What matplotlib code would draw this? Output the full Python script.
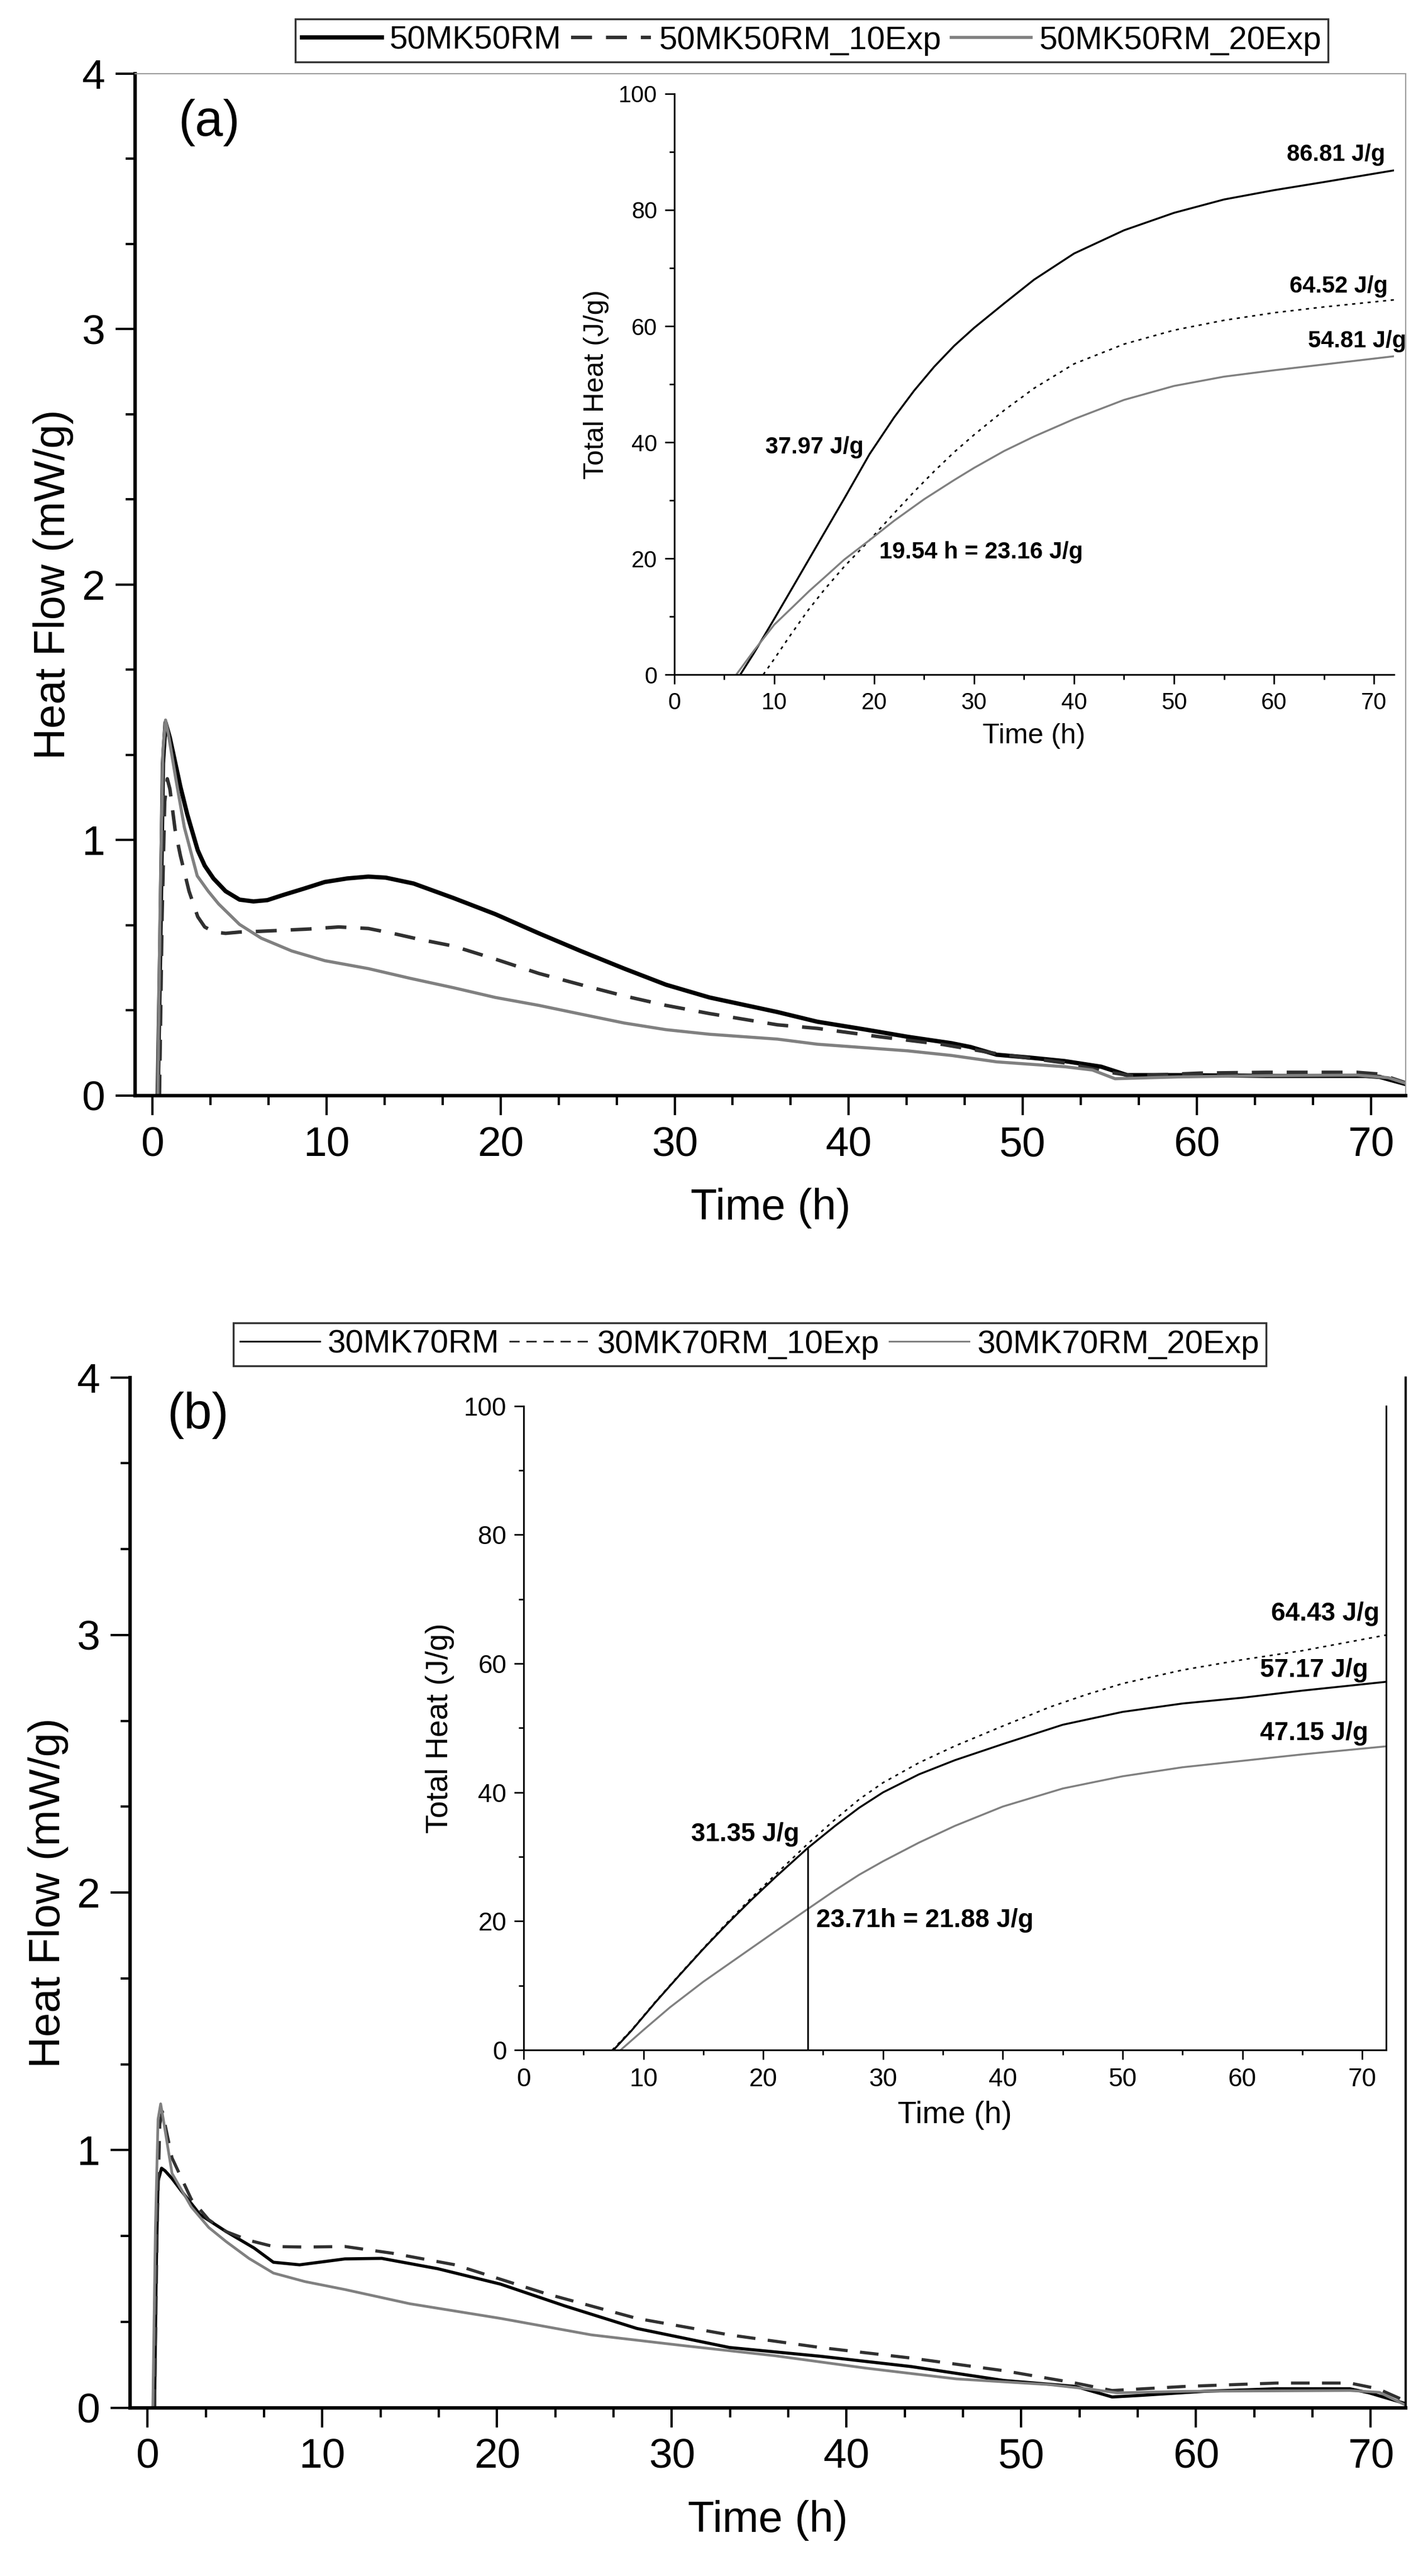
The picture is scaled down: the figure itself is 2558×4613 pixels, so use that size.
import matplotlib
matplotlib.use('Agg')
import matplotlib.pyplot as plt
from matplotlib.ticker import MultipleLocator

plt.rcParams['font.family'] = ['Liberation Sans', 'DejaVu Sans']

# ---- panel (a): heat flow, mW/g ----
a_ctrl_t = [0.3, 0.45, 0.6, 0.75, 1.0, 1.6, 2.0, 2.6, 3.0, 3.5, 4.2, 5.0, 5.8, 6.6, 7.5, 8.7,
            9.9, 11.2, 12.4, 13.4, 15.0, 17.3, 19.7, 22.2, 24.6, 27.1, 29.5, 32.0, 35.9, 38.2,
            41.0, 43.4, 45.9, 47.0, 48.5, 50.5, 52.4, 54.5, 56.0, 58.9, 64.0, 69.7, 70.5, 72.0]
a_ctrl_q = [0.0, 0.6, 1.3, 1.46, 1.40, 1.21, 1.10, 0.96, 0.90, 0.85, 0.80, 0.767, 0.76, 0.765,
            0.785, 0.81, 0.836, 0.85, 0.857, 0.853, 0.83, 0.773, 0.71, 0.635, 0.566, 0.497, 0.434,
            0.384, 0.327, 0.289, 0.258, 0.230, 0.205, 0.19, 0.16, 0.148, 0.135, 0.113, 0.080,
            0.080, 0.077, 0.077, 0.073, 0.045]

a_10_t = [0.4, 0.55, 0.7, 0.85, 1.0, 1.3, 1.6, 2.1, 2.6, 3.0, 3.55, 4.2, 5.0, 6.2, 7.5, 9.0,
          10.7, 12.4, 13.8, 15.3, 17.3, 19.7, 22.2, 24.6, 27.1, 29.5, 32.0, 35.9, 38.2, 41.8,
          45.4, 48.5, 52.4, 55.0, 56.3, 60.2, 64.0, 69.2, 70.5, 72.0]
a_10_q = [0.0, 0.7, 1.15, 1.24, 1.20, 1.04, 0.94, 0.80, 0.70, 0.66, 0.64, 0.635, 0.64, 0.643,
          0.647, 0.652, 0.66, 0.654, 0.635, 0.612, 0.585, 0.534, 0.478, 0.434, 0.39, 0.353,
          0.321, 0.277, 0.263, 0.23, 0.20, 0.164, 0.128, 0.091, 0.077, 0.088, 0.091, 0.091,
          0.084, 0.05]

a_20_t = [0.3, 0.45, 0.6, 0.75, 0.9, 1.34, 1.83, 2.57, 3.2, 3.8, 4.4, 5.0, 6.25, 8.0, 9.9, 12.4,
          14.8, 17.3, 19.7, 22.2, 24.6, 27.1, 29.5, 32.0, 35.9, 38.2, 43.4, 45.9, 48.5, 52.4,
          54.0, 55.3, 58.9, 64.0, 69.2, 71.0, 72.0]
a_20_q = [0.0, 0.8, 1.35, 1.47, 1.42, 1.24, 1.05, 0.86, 0.80, 0.75, 0.71, 0.67, 0.616, 0.566,
          0.528, 0.497, 0.459, 0.422, 0.384, 0.353, 0.319, 0.284, 0.258, 0.24, 0.221, 0.201,
          0.175, 0.157, 0.132, 0.113, 0.10, 0.066, 0.073, 0.078, 0.08, 0.07, 0.048]

# panel (a) inset: total heat, J/g
ia_ctrl_t = [6.6, 8, 10, 12, 14.7, 17, 19.54, 22, 24, 26, 28, 30, 33, 36, 40, 45, 50, 55, 60, 65, 72]
ia_ctrl_h = [0, 3.8, 9.6, 15.5, 23.5, 30.3, 37.97, 44.3, 48.9, 53.0, 56.6, 59.7, 63.9, 68.0,
             72.5, 76.5, 79.5, 81.8, 83.4, 84.8, 86.81]
ia_10_t = [8.9, 10, 11.5, 13.35, 15, 17, 19.54, 22, 24, 26, 28, 30, 33, 36, 40, 45, 50, 55, 60, 65, 72]
ia_10_h = [0, 2.7, 6.5, 11, 14.6, 18.6, 23.16, 27.8, 31.5, 35, 38.3, 41.3, 45.5, 49.3, 53.5,
           56.9, 59.3, 61.0, 62.3, 63.3, 64.52]
ia_20_t = [6.2, 8, 10, 12, 13.5, 15, 17, 19.54, 22, 25, 28, 30, 33, 36, 40, 45, 50, 55, 60, 65, 72]
ia_20_h = [0, 4.2, 8.6, 11.9, 14.4, 16.7, 19.8, 23.16, 26.5, 30.2, 33.5, 35.6, 38.5, 41, 44,
           47.3, 49.7, 51.3, 52.4, 53.4, 54.81]

# ---- panel (b) ----
b_ctrl_t = [0.4, 0.5, 0.6, 0.8, 1.0, 1.4, 1.9, 3.0, 4.5, 6.1, 7.2, 8.7, 11.3, 13.4, 16.6, 20.2,
            23.9, 28.0, 33.3, 38.5, 43.7, 49.0, 53.1, 55.2, 56.8, 60.5, 64.6, 68.8, 69.9, 72.0]
b_ctrl_q = [0.0, 0.55, 0.88, 0.93, 0.92, 0.89, 0.845, 0.75, 0.684, 0.62, 0.565, 0.555, 0.578,
            0.58, 0.54, 0.48, 0.395, 0.308, 0.234, 0.20, 0.16, 0.106, 0.083, 0.042, 0.048, 0.064,
            0.074, 0.074, 0.058, 0.016]

b_10_t = [0.4, 0.55, 0.7, 0.85, 1.0, 1.4, 2.5, 3.5, 4.5, 5.8, 7.2, 9.0, 11.3, 14.0, 17.6, 22.8,
          28.0, 33.3, 38.5, 43.7, 49.0, 53.1, 55.2, 59.4, 64.6, 68.8, 70.4, 72.0]
b_10_q = [0.0, 0.7, 1.1, 1.15, 1.10, 0.97, 0.81, 0.73, 0.684, 0.65, 0.626, 0.624, 0.626, 0.60,
          0.555, 0.443, 0.347, 0.283, 0.234, 0.193, 0.144, 0.096, 0.067, 0.083, 0.096, 0.096,
          0.074, 0.026]

b_20_t = [0.3, 0.45, 0.6, 0.75, 0.9, 1.4, 2.5, 3.5, 4.5, 5.8, 7.2, 9.0, 11.3, 15.0, 20.2, 25.4,
          30.7, 35.9, 41.1, 46.3, 51.6, 54.2, 55.5, 59.4, 68.8, 70.5, 72.0]
b_20_q = [0.0, 0.7, 1.12, 1.18, 1.12, 0.91, 0.78, 0.70, 0.645, 0.58, 0.523, 0.49, 0.459, 0.404,
          0.347, 0.283, 0.241, 0.202, 0.154, 0.112, 0.09, 0.07, 0.058, 0.064, 0.067, 0.06, 0.01]

ib_ctrl_t = [7.5, 9, 11, 13, 15, 17, 19, 21, 23.71, 26, 28, 30, 33, 36, 40, 45, 50, 55, 60, 65, 72]
ib_ctrl_h = [0, 3.0, 7.4, 11.6, 15.7, 19.6, 23.3, 26.8, 31.35, 34.8, 37.6, 40, 42.8, 45, 47.5,
             50.5, 52.5, 53.8, 54.7, 55.8, 57.17]
ib_10_t = [7.4, 9, 11, 13, 15, 17, 19, 21, 23.71, 26, 28, 30, 33, 36, 40, 44, 47, 50, 55, 60, 65, 72]
ib_10_h = [0, 3.1, 7.5, 11.7, 15.8, 19.8, 23.6, 27.2, 32, 35.8, 38.9, 41.5, 44.6, 47.2, 50.3,
           53.3, 55.2, 56.9, 59.0, 60.6, 62, 64.43]
ib_20_t = [8.1, 10, 12.2, 15, 18, 21, 23.71, 26, 28, 30, 33, 36, 40, 45, 50, 55, 60, 65, 72]
ib_20_h = [0, 3.1, 6.6, 10.6, 14.5, 18.4, 21.88, 24.8, 27.2, 29.3, 32.2, 34.8, 37.8, 40.6,
           42.5, 43.9, 44.9, 45.9, 47.15]

marker_t_b = 23.71
marker_h_b = 31.35

GRAY = '#808080'
DARK = '#303030'


def style_main(ax):
    ax.set_xlim(-1, 72)
    ax.set_ylim(0, 4)
    ax.xaxis.set_major_locator(MultipleLocator(10))
    ax.xaxis.set_minor_locator(MultipleLocator(10 / 3))
    ax.yaxis.set_major_locator(MultipleLocator(1))
    ax.yaxis.set_minor_locator(MultipleLocator(1 / 3))
    ax.tick_params(which='major', direction='out', length=25, width=3, labelsize=54, pad=14)
    ax.tick_params(which='minor', direction='out', length=12, width=3)
    ax.spines['left'].set_linewidth(4.5)
    ax.spines['bottom'].set_linewidth(4.5)
    ax.set_xlabel('Time (h)', fontsize=56, labelpad=30)
    ax.set_ylabel('Heat Flow (mW/g)', fontsize=56, labelpad=10)


def style_inset(ax, lab, tick):
    ax.set_xlim(0, 72)
    ax.set_ylim(0, 100)
    ax.xaxis.set_major_locator(MultipleLocator(10))
    ax.xaxis.set_minor_locator(MultipleLocator(5))
    ax.yaxis.set_major_locator(MultipleLocator(20))
    ax.yaxis.set_minor_locator(MultipleLocator(10))
    ax.tick_params(which='major', direction='out', length=12, width=2, labelsize=tick, pad=10)
    ax.tick_params(which='minor', direction='out', length=6.5, width=2)
    ax.spines['top'].set_visible(False)
    ax.spines['left'].set_linewidth(2.2)
    ax.spines['bottom'].set_linewidth(2.2)
    ax.patch.set_alpha(0)
    ax.set_xlabel('Time (h)', fontsize=lab, labelpad=12)
    ax.set_ylabel('Total Heat (J/g)', fontsize=lab, labelpad=12)


fig = plt.figure(figsize=(25.58, 46.13), dpi=100)

# ================= panel (a) =================
ax = fig.add_axes([0.0946, 0.5747, 0.8898, 0.3967])
style_main(ax)
for s in ('top', 'right'):
    ax.spines[s].set_color('#9a9a9a')
    ax.spines[s].set_linewidth(1.5)
ax.plot(a_ctrl_t, a_ctrl_q, color='black', lw=5.5, label='50MK50RM', solid_joinstyle='round')
ax.plot(a_10_t, a_10_q, color=DARK, lw=4.5, dashes=(6, 4), label='50MK50RM_10Exp')
ax.plot(a_20_t, a_20_q, color=GRAY, lw=4.0, label='50MK50RM_20Exp')
ax.text(0.034, 0.952, '(a)', transform=ax.transAxes, fontsize=65, ha='left', va='center')
leg = ax.legend(loc='upper left', bbox_to_anchor=(529 / 2558, 1 - 34 / 4613),
                bbox_transform=fig.transFigure, ncol=3, fontsize=42, frameon=True,
                fancybox=False, edgecolor='black', borderaxespad=0, borderpad=0.2,
                handlelength=2.45, handletextpad=0.25, columnspacing=0.3)
leg.get_frame().set_linewidth(2.5)

ins = fig.add_axes([0.4722, 0.7381, 0.5039, 0.2255])
style_inset(ins, 36, 30)
ins.spines['right'].set_visible(False)
ins.plot(ia_ctrl_t, ia_ctrl_h, color='black', lw=2.5)
ins.plot(ia_10_t, ia_10_h, color='black', lw=2.0, dashes=(2, 3))
ins.plot(ia_20_t, ia_20_h, color=GRAY, lw=2.5)
bold = dict(fontsize=30, fontweight='bold', ha='center', va='center')
ins.text(66.2, 89.5, '86.81 J/g', **bold)
ins.text(66.5, 66.8, '64.52 J/g', **bold)
ins.text(68.3, 57.4, '54.81 J/g', **bold)
ins.text(14.0, 39.1, '37.97 J/g', **bold)
ins.text(30.7, 21.1, '19.54 h = 23.16 J/g', **bold)

# ================= panel (b) =================
bx = fig.add_axes([0.0911, 0.0653, 0.8933, 0.4000])
style_main(bx)
bx.spines['top'].set_visible(False)
bx.spines['right'].set_linewidth(3)
bx.plot(b_ctrl_t, b_ctrl_q, color='black', lw=4.0, label='30MK70RM')
bx.plot(b_10_t, b_10_q, color=DARK, lw=4.0, dashes=(6, 4), label='30MK70RM_10Exp')
bx.plot(b_20_t, b_20_q, color=GRAY, lw=3.5, label='30MK70RM_20Exp')
bx.text(0.029, 0.963, '(b)', transform=bx.transAxes, fontsize=65, ha='left', va='center')
leg = bx.legend(loc='upper left', bbox_to_anchor=(418 / 2558, 1 - 2369 / 4613),
                bbox_transform=fig.transFigure, ncol=3, fontsize=42, frameon=True,
                fancybox=False, edgecolor='black', borderaxespad=0, borderpad=0.2,
                handlelength=2.45, handletextpad=0.25, columnspacing=0.3)
leg.get_frame().set_linewidth(2.5)
for h in leg.get_lines():
    h.set_linewidth(2.2)

inb = fig.add_axes([0.3667, 0.2042, 0.6040, 0.2500])
style_inset(inb, 40, 33)
inb.spines['right'].set_linewidth(2.2)
inb.plot(ib_ctrl_t, ib_ctrl_h, color='black', lw=2.5)
inb.plot(ib_10_t, ib_10_h, color='black', lw=2.0, dashes=(2, 3))
inb.plot(ib_20_t, ib_20_h, color=GRAY, lw=2.5)
inb.plot([marker_t_b, marker_t_b], [0, marker_h_b], color='black', lw=2.2)
bold = dict(fontsize=33, fontweight='bold', ha='center', va='center')
inb.text(66.9, 67.7, '64.43 J/g', **bold)
inb.text(66.0, 59.0, '57.17 J/g', **bold)
inb.text(66.0, 49.2, '47.15 J/g', **bold)
inb.text(18.5, 33.5, '31.35 J/g', **bold)
inb.text(33.5, 20.1, '23.71h = 21.88 J/g', **bold)

fig.savefig('out.png', dpi=100)
